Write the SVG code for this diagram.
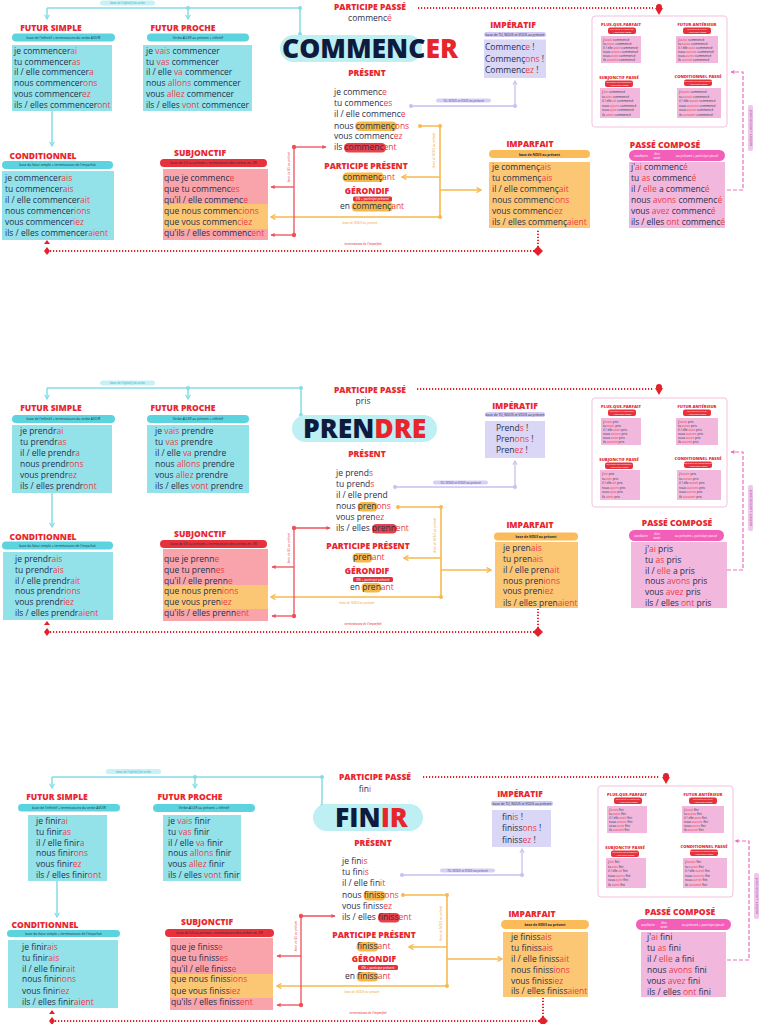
<svg xmlns="http://www.w3.org/2000/svg" width="768" height="1024" viewBox="0 0 768 1024">
<style>
text{font-family:"Open Sans","Liberation Sans",sans-serif}
.tt{font-weight:800;font-size:8.5px;fill:#e8262f;text-anchor:middle}
.l{font-size:8.5px;fill:#27304d}
.e{fill:#ea3e48}
.p{font-size:3.3px;text-anchor:middle;fill:#1d2a40}
.pi{font-size:3.1px;text-anchor:middle;font-style:italic}
.pw{font-size:2.4px;text-anchor:middle;fill:#fff}
.pw3{font-size:3.2px;text-anchor:middle;fill:#fff}
.ct{font-weight:800;font-size:4.2px;fill:#e8262f;text-anchor:middle}
.cl{font-size:3.2px;fill:#27304d}
.big{font-weight:800;font-size:26.5px;fill:#0f1b3d}
.cy{fill:#93e2ea}.cyp{fill:#5cd4df}.bg{fill:#bdeff3}
.pk{fill:#f8a4aa}.or{fill:#fcc775}.orp{fill:#fbbb58}
.lv{fill:#dad6f5}.lvp{fill:#cfc9f3}
.pc{fill:#f2b7dc}.hp{fill:#f35fb8}.rp{fill:#e8323b}
.ho{fill:#f7b84a}.hr{fill:#e7424b}
.c-cy{stroke:#85dde6;stroke-width:1.5;fill:none}
.c-or{stroke:#f8b94f;stroke-width:1.6;fill:none}
.c-rd{stroke:#ee5058;stroke-width:1.3;fill:none}
.c-lv{stroke:#c7c1ef;stroke-width:1.3;fill:none}
.c-pk{stroke:#ef6cc2;stroke-width:1.2;fill:none;stroke-dasharray:4 2}
.c-dot{stroke:#e3212b;stroke-width:2;fill:none;stroke-dasharray:1.2 1.8}
.dcy{fill:#85dde6}.dor{fill:#f8b94f}.drd{fill:#ee5058}.dlv{fill:#c7c1ef}.dk{fill:#e3212b}
.box{fill:#fff;stroke:#f5c1de;stroke-width:1}
</style>
<defs>
<marker id="ac" viewBox="0 0 10 10" refX="8" refY="5" markerWidth="4" markerHeight="4" orient="auto"><path d="M1,1 L8,5 L1,9" fill="none" stroke="#85dde6" stroke-width="2"/></marker>
<marker id="ao" viewBox="0 0 10 10" refX="8" refY="5" markerWidth="4" markerHeight="4" orient="auto"><path d="M1,1 L8,5 L1,9" fill="none" stroke="#f8b94f" stroke-width="2"/></marker>
<marker id="ar" viewBox="0 0 10 10" refX="8" refY="5" markerWidth="4" markerHeight="4" orient="auto"><path d="M1,1 L9,5 L1,9 Z" fill="#ee5058"/></marker>
<marker id="al" viewBox="0 0 10 10" refX="8" refY="5" markerWidth="4" markerHeight="4" orient="auto"><path d="M1,1 L8,5 L1,9" fill="none" stroke="#c7c1ef" stroke-width="2"/></marker>
<marker id="ap" viewBox="0 0 10 10" refX="8" refY="5" markerWidth="4" markerHeight="4" orient="auto"><path d="M1,1 L9,5 L1,9 Z" fill="#ef6cc2"/></marker>
</defs>
<rect width="768" height="1024" fill="#fff"/>

<!-- ================= SECTION 1 : COMMENCER ================= -->
<g id="s1-connectors">
<path class="c-cy" d="M47,8 H300 V34"/>
<path class="c-cy" d="M47,8 V19" marker-end="url(#ac)"/>
<path class="c-cy" d="M188,8 V19" marker-end="url(#ac)"/>
<circle class="dcy" cx="188" cy="8" r="2"/><circle class="dcy" cx="300" cy="8" r="2"/><circle class="dcy" cx="300" cy="34" r="2"/>
<rect x="100" y="0.5" width="55" height="5" rx="2.5" fill="#c9f1f5"/>
<text class="pi" x="127.5" y="4" fill="#3aaec0">base de l'infinitif du verbe</text>
<path class="c-cy" d="M52,111 V146" marker-end="url(#ac)"/>
<path class="c-dot" d="M418,8 H653"/>
<g class="dk"><circle cx="659" cy="7" r="3"/><path d="M655,8 L663,8 L659,15 Z"/></g>
<path class="c-dot" d="M47,251 H538 V229"/>
<path class="dk" d="M538,246 l5,5 l-5,5 l-5,-5z"/>
<path class="dk" d="M47,247 l3,4 l-3,4 l-3,-4z"/>
<path class="dk" d="M47,240 l3,4 h-6z"/>
<path class="c-lv" d="M411,106 H515 V81" marker-end="url(#al)"/>
<circle class="dlv" cx="411" cy="106" r="2"/><circle class="dlv" cx="515" cy="106" r="2"/>
<rect x="436" y="98.5" width="55" height="4" rx="2" fill="#d6d1f4"/>
<text class="pi" x="463.5" y="101.5" fill="#5a4fa0" font-style="normal">TU, NOUS et VOUS au présent</text>
<path class="c-or" d="M420,126 H440 V217"/>
<circle class="dor" cx="420" cy="126" r="2"/><circle class="dor" cx="440" cy="126" r="2"/><circle class="dor" cx="440" cy="217" r="2"/>
<path class="c-or" d="M440,177 H402" marker-end="url(#ao)"/>
<path class="c-or" d="M440,190 H481" marker-end="url(#ao)"/>
<path class="c-or" d="M440,217 H271" marker-end="url(#ao)"/>
<text class="pi" x="0" y="0" fill="#f0a030" font-style="normal" transform="translate(435,150) rotate(-90)">base de NOUS au présent</text>
<text class="pi" x="360" y="223.5" fill="#f0a030" font-style="normal">base de NOUS au présent</text>
<path class="c-rd" d="M294,147 H326" marker-end="url(#ar)"/>
<path class="c-rd" d="M294,147 V235"/>
<circle class="drd" cx="294" cy="147" r="2.2"/><circle class="drd" cx="294" cy="235" r="2.2"/>
<path class="c-rd" d="M294,187 H271" marker-end="url(#ar)"/>
<path class="c-rd" d="M294,235 H271" marker-end="url(#ar)"/>
<text class="pi" x="0" y="0" fill="#e8474f" font-style="normal" transform="translate(289.5,167) rotate(-90)">base de ILS au présent</text>
<text class="pi" x="363" y="245" fill="#e3212b" font-style="normal" font-size="3.6">terminaisons de l'imparfait</text>
<path class="c-pk" d="M727,190 H743 V72 H731" marker-end="url(#ap)"/>
<rect x="748" y="105" width="5" height="46" rx="2" fill="#ecc8ea"/>
<text class="pi" x="0" y="0" fill="#b04a9a" font-style="normal" font-size="2.6" transform="translate(751.6,128) rotate(-90)">auxiliaire + participe passé</text>
</g>

<g id="s1-verbe">
<rect class="bg" x="280" y="35" width="142" height="27" rx="13.5"/>
<text class="big" x="282" y="58">COMMENC<tspan fill="#e8252d">ER</tspan></text>
</g>
<g id="s1-participe-passe">
<text class="tt" x="370" y="10">PARTICIPE PASSÉ</text>
<text class="l" x="370" y="21" text-anchor="middle">commenc<tspan class="e">é</tspan></text>
</g>
<g id="s1-futur-simple">
<text class="tt" x="51" y="31">FUTUR SIMPLE</text>
<rect class="cyp" x="12" y="33.5" width="103" height="8" rx="4"/>
<text class="p" x="63.5" y="38.7">base de l'infinitif + terminaisons du verbe AVOIR</text>
<rect class="cy" x="12" y="45" width="100" height="66"/>
<text class="l" x="14" y="54">je commencer<tspan class="e">ai</tspan></text>
<text class="l" x="14" y="64.7">tu commencer<tspan class="e">as</tspan></text>
<text class="l" x="14" y="75.4">il / elle commencer<tspan class="e">a</tspan></text>
<text class="l" x="14" y="86.1">nous commencer<tspan class="e">ons</tspan></text>
<text class="l" x="14" y="96.8">vous commencer<tspan class="e">ez</tspan></text>
<text class="l" x="14" y="107.5">ils / elles commencer<tspan class="e">ont</tspan></text>
</g>
<g id="s1-futur-proche">
<text class="tt" x="183" y="31">FUTUR PROCHE</text>
<rect class="cyp" x="147" y="33.5" width="102" height="8" rx="4"/>
<text class="p" x="198" y="38.7">Verbe <tspan font-style="italic">ALLER</tspan> au présent + infinitif</text>
<rect class="cy" x="143" y="45" width="109" height="66"/>
<text class="l" x="146" y="54">je <tspan class="e">vais</tspan> commencer</text>
<text class="l" x="146" y="64.7">tu <tspan class="e">vas</tspan> commencer</text>
<text class="l" x="146" y="75.4">il / elle <tspan class="e">va</tspan> commencer</text>
<text class="l" x="146" y="86.1">nous <tspan class="e">allons</tspan> commencer</text>
<text class="l" x="146" y="96.8">vous <tspan class="e">allez</tspan> commencer</text>
<text class="l" x="146" y="107.5">ils / elles <tspan class="e">vont</tspan> commencer</text>
</g>
<g id="s1-conditionnel">
<text class="tt" x="43" y="159">CONDITIONNEL</text>
<rect class="cyp" x="2" y="161" width="111" height="8" rx="4"/>
<text class="p" x="57.5" y="166.2">base du futur simple + terminaisons de l'imparfait</text>
<rect class="cy" x="2" y="171" width="112" height="69"/>
<text class="l" x="5" y="180.5">je commencer<tspan class="e">ais</tspan></text>
<text class="l" x="5" y="191.5">tu commencer<tspan class="e">ais</tspan></text>
<text class="l" x="5" y="202.5">il / elle commencer<tspan class="e">ait</tspan></text>
<text class="l" x="5" y="213.5">nous commencer<tspan class="e">ions</tspan></text>
<text class="l" x="5" y="224.5">vous commencer<tspan class="e">iez</tspan></text>
<text class="l" x="5" y="235.5">ils / elles commencer<tspan class="e">aient</tspan></text>
</g>
<g id="s1-subjonctif">
<text class="tt" x="200" y="156">SUBJONCTIF</text>
<rect class="rp" x="160" y="159" width="107" height="8" rx="4"/>
<text class="p" x="213.5" y="164.2" fill="#3a0a10">base de ILS au présent + terminaisons des verbes en -ER</text>
<rect class="pk" x="163" y="169" width="105" height="35"/>
<rect class="or" x="163" y="204" width="105" height="25"/>
<rect class="pk" x="163" y="229" width="105" height="11"/>
<text class="l" x="164" y="180.5">que je commenc<tspan class="e">e</tspan></text>
<text class="l" x="164" y="191.5">que tu commenc<tspan class="e">es</tspan></text>
<text class="l" x="164" y="202.5">qu'il / elle commenc<tspan class="e">e</tspan></text>
<text class="l" x="164" y="213.5">que nous commen<tspan class="e">cions</tspan></text>
<text class="l" x="164" y="224.5">que vous commen<tspan class="e">ciez</tspan></text>
<text class="l" x="164" y="235.5">qu'ils / elles commenc<tspan class="e">ent</tspan></text>
</g>
<g id="s1-present">
<text class="tt" x="367" y="76">PRÉSENT</text>
<rect class="ho" x="355" y="121.5" width="42" height="9.5" rx="4.5"/>
<rect class="hr" x="344" y="143" width="42" height="9.5" rx="4.5"/>
<text class="l" x="334" y="95">je commenc<tspan class="e">e</tspan></text>
<text class="l" x="334" y="106">tu commenc<tspan class="e">es</tspan></text>
<text class="l" x="334" y="117">il / elle commenc<tspan class="e">e</tspan></text>
<text class="l" x="334" y="128.5">nous commenç<tspan class="e">ons</tspan></text>
<text class="l" x="334" y="139">vous commenc<tspan class="e">ez</tspan></text>
<text class="l" x="334" y="150">ils commenc<tspan class="e">ent</tspan></text>
</g>
<g id="s1-participe-present">
<text class="tt" x="366" y="169">PARTICIPE PRÉSENT</text>
<rect class="ho" x="342.5" y="172.5" width="41.5" height="9.5" rx="4.5"/>
<text class="l" x="343" y="179.5">commenç<tspan class="e">ant</tspan></text>
</g>
<g id="s1-gerondif">
<text class="tt" x="367" y="194">GÉRONDIF</text>
<rect class="rp" x="353" y="196.5" width="39" height="5" rx="1.5"/>
<text class="pw3" x="372.5" y="200">EN + participe présent</text>
<rect class="ho" x="351.5" y="202" width="41.5" height="9.5" rx="4.5"/>
<text class="l" x="340" y="209">en commenç<tspan class="e">ant</tspan></text>
</g>
<g id="s1-imperatif">
<text class="tt" x="513" y="28">IMPÉRATIF</text>
<rect class="lvp" x="484" y="32" width="62" height="5" rx="2.5"/>
<text class="p" x="515" y="35.5" font-size="2.7">base de TU, NOUS et VOUS au présent</text>
<rect class="lv" x="484" y="39.5" width="62" height="38.5"/>
<text class="l" x="485" y="50">Commenc<tspan class="e">e</tspan> !</text>
<text class="l" x="485" y="61.5">Commenç<tspan class="e">ons</tspan> !</text>
<text class="l" x="485" y="72.5">Commenc<tspan class="e">ez</tspan> !</text>
</g>
<g id="s1-imparfait">
<text class="tt" x="530" y="147">IMPARFAIT</text>
<rect class="orp" x="489" y="150" width="101" height="8" rx="4"/>
<text class="p" x="539.5" y="155.6" font-weight="700" font-size="4.2">base de <tspan font-style="italic">NOUS</tspan> au présent</text>
<rect class="or" x="489" y="162" width="101" height="66"/>
<text class="l" x="492" y="170">je commenç<tspan class="e">ais</tspan></text>
<text class="l" x="492" y="180.5">tu commenç<tspan class="e">ais</tspan></text>
<text class="l" x="492" y="191.5">il / elle commenç<tspan class="e">ait</tspan></text>
<text class="l" x="492" y="202.5">nous commenc<tspan class="e">ions</tspan></text>
<text class="l" x="492" y="213.5">vous commenc<tspan class="e">iez</tspan></text>
<text class="l" x="492" y="224.5">ils / elles commenç<tspan class="e">aient</tspan></text>
</g>
<g id="s1-passe-compose">
<text class="tt" x="665" y="148">PASSÉ COMPOSÉ</text>
<rect class="hp" x="629" y="150" width="96" height="11" rx="5.5"/>
<text class="pw3" x="641" y="156.5">auxiliaire</text>
<text class="pw3" x="657" y="154.5" font-style="italic">être</text>
<text class="pw3" x="657" y="158.5" font-style="italic">avoir</text>
<text class="pw3" x="697" y="156.5">au présent + participe passé</text>
<rect class="pc" x="629" y="162" width="96" height="66"/>
<text class="l" x="631" y="169.5">j'<tspan class="e">ai</tspan> commenc<tspan class="e">é</tspan></text>
<text class="l" x="631" y="180.5">tu <tspan class="e">as</tspan>  commenc<tspan class="e">é</tspan></text>
<text class="l" x="631" y="192">il / <tspan class="e">elle</tspan> a commenc<tspan class="e">é</tspan></text>
<text class="l" x="631" y="202.5">nous <tspan class="e">avons</tspan> commenc<tspan class="e">é</tspan></text>
<text class="l" x="631" y="213.5">vous <tspan class="e">avez</tspan> commenc<tspan class="e">é</tspan></text>
<text class="l" x="631" y="224.5" textLength="94">ils / elles <tspan class="e">ont</tspan> commenc<tspan class="e">é</tspan></text>
</g>
<g id="s1-temps-composes">
<rect class="box" x="592" y="16" width="135" height="111" rx="3"/>
<text class="ct" x="621" y="26">PLUS-QUE-PARFAIT</text>
<rect class="rp" x="608" y="27.5" width="28" height="6.5" rx="2"/>
<text class="pw" x="622" y="30.4">auxiliaire à l'imparfait</text><text class="pw" x="622" y="33.2">+ participe passé</text>
<rect class="pc" x="601" y="36" width="40" height="27"/>
<text class="cl" x="603" y="40.5">j'<tspan class="e">avais</tspan> commencé</text>
<text class="cl" x="603" y="44.5">tu <tspan class="e">avais</tspan> commencé</text>
<text class="cl" x="603" y="48.5">il / elle <tspan class="e">avait</tspan> commencé</text>
<text class="cl" x="603" y="52.5">nous <tspan class="e">avions</tspan> commencé</text>
<text class="cl" x="603" y="56.5">vous <tspan class="e">aviez</tspan> commencé</text>
<text class="cl" x="603" y="60.5">ils <tspan class="e">avaient</tspan> commencé</text>
<text class="ct" x="697" y="26">FUTUR ANTÉRIEUR</text>
<rect class="rp" x="683" y="27.5" width="28" height="6.5" rx="2"/>
<text class="pw" x="697" y="30.4">auxiliaire au futur</text><text class="pw" x="697" y="33.2">+ participe passé</text>
<rect class="pc" x="676" y="36" width="42" height="27"/>
<text class="cl" x="678" y="40.5">j'<tspan class="e">aurai</tspan> commencé</text>
<text class="cl" x="678" y="44.5">tu <tspan class="e">auras</tspan> commencé</text>
<text class="cl" x="678" y="48.5">il / elle <tspan class="e">aura</tspan> commencé</text>
<text class="cl" x="678" y="52.5">nous <tspan class="e">aurons</tspan> commencé</text>
<text class="cl" x="678" y="56.5">vous <tspan class="e">aurez</tspan> commencé</text>
<text class="cl" x="678" y="60.5">ils <tspan class="e">auront</tspan> commencé</text>
<text class="ct" x="619" y="79">SUBJONCTIF PASSÉ</text>
<rect class="rp" x="605" y="80.5" width="28" height="6.5" rx="2"/>
<text class="pw" x="619" y="83.4">auxiliaire au subjonctif</text><text class="pw" x="619" y="86.2">+ participe passé</text>
<rect class="pc" x="600" y="88" width="40" height="30"/>
<text class="cl" x="602" y="93">j'<tspan class="e">aie</tspan> commencé</text>
<text class="cl" x="602" y="97.5">tu <tspan class="e">aies</tspan> commencé</text>
<text class="cl" x="602" y="102">il / elle <tspan class="e">ait</tspan> commencé</text>
<text class="cl" x="602" y="106.5">nous <tspan class="e">ayons</tspan> commencé</text>
<text class="cl" x="602" y="111">vous <tspan class="e">ayez</tspan> commencé</text>
<text class="cl" x="602" y="115.5">ils <tspan class="e">aient</tspan> commencé</text>
<text class="ct" x="698" y="78">CONDITIONNEL PASSÉ</text>
<rect class="rp" x="684" y="79.5" width="28" height="6.5" rx="2"/>
<text class="pw" x="698" y="82.4">auxiliaire au conditionnel</text><text class="pw" x="698" y="85.2">+ participe passé</text>
<rect class="pc" x="677" y="88" width="44" height="30"/>
<text class="cl" x="679" y="93">j'<tspan class="e">aurais</tspan> commencé</text>
<text class="cl" x="679" y="97.5">tu <tspan class="e">aurais</tspan> commencé</text>
<text class="cl" x="679" y="102">il / elle <tspan class="e">aurait</tspan> commencé</text>
<text class="cl" x="679" y="106.5">nous <tspan class="e">aurions</tspan> commencé</text>
<text class="cl" x="679" y="111">vous <tspan class="e">auriez</tspan> commencé</text>
<text class="cl" x="679" y="115.5">ils <tspan class="e">auraient</tspan> commencé</text>
</g>

<!-- ================= SECTION 2 : PRENDRE ================= -->
<g id="s2-connectors">
<path class="c-cy" d="M47,388 H301 V415"/>
<path class="c-cy" d="M47,388 V399" marker-end="url(#ac)"/>
<path class="c-cy" d="M188,388 V399" marker-end="url(#ac)"/>
<circle class="dcy" cx="188" cy="388" r="2"/><circle class="dcy" cx="301" cy="388" r="2"/><circle class="dcy" cx="301" cy="415" r="2"/>
<rect x="100" y="380.5" width="55" height="5" rx="2.5" fill="#c9f1f5"/>
<text class="pi" x="127.5" y="384" fill="#3aaec0">base de l'infinitif du verbe</text>
<path class="c-cy" d="M52,493 V527" marker-end="url(#ac)"/>
<path class="c-dot" d="M417,389 H653"/>
<g class="dk"><circle cx="659" cy="387" r="3"/><path d="M655,388 L663,388 L659,395 Z"/></g>
<path class="c-dot" d="M47,632 H538 V609"/>
<path class="dk" d="M538,627 l5,5 l-5,5 l-5,-5z"/>
<path class="dk" d="M47,628 l3,4 l-3,4 l-3,-4z"/>
<path class="dk" d="M47,621 l3,4 h-6z"/>
<path class="c-lv" d="M395,487 H515 V461" marker-end="url(#al)"/>
<circle class="dlv" cx="395" cy="487" r="2"/><circle class="dlv" cx="515" cy="487" r="2"/>
<rect x="433" y="480.5" width="55" height="4" rx="2" fill="#d6d1f4"/>
<text class="pi" x="460.5" y="483.5" fill="#5a4fa0" font-style="normal">TU, NOUS et VOUS au présent</text>
<path class="c-or" d="M398,507 H441 V597"/>
<circle class="dor" cx="398" cy="507" r="2"/><circle class="dor" cx="441" cy="507" r="2"/><circle class="dor" cx="441" cy="597" r="2"/>
<path class="c-or" d="M441,558 H404" marker-end="url(#ao)"/>
<path class="c-or" d="M441,570 H491" marker-end="url(#ao)"/>
<path class="c-or" d="M441,597 H271" marker-end="url(#ao)"/>
<text class="pi" x="0" y="0" fill="#f0a030" font-style="normal" transform="translate(436,535) rotate(-90)">base de NOUS au présent</text>
<text class="pi" x="357" y="603.5" fill="#f0a030" font-style="normal">base de NOUS au présent</text>
<path class="c-rd" d="M294,528 H330" marker-end="url(#ar)"/>
<path class="c-rd" d="M294,528 V616"/>
<circle class="drd" cx="294" cy="528" r="2.2"/><circle class="drd" cx="294" cy="616" r="2.2"/>
<path class="c-rd" d="M294,567 H272" marker-end="url(#ar)"/>
<path class="c-rd" d="M294,616 H272" marker-end="url(#ar)"/>
<text class="pi" x="0" y="0" fill="#e8474f" font-style="normal" transform="translate(289.5,548) rotate(-90)">base de ILS au présent</text>
<text class="pi" x="363" y="625" fill="#e3212b" font-style="normal" font-size="3.6">terminaisons de l'imparfait</text>
<path class="c-pk" d="M727,570 H743 V452 H731" marker-end="url(#ap)"/>
<rect x="748" y="485" width="5" height="46" rx="2" fill="#ecc8ea"/>
<text class="pi" x="0" y="0" fill="#b04a9a" font-style="normal" font-size="2.6" transform="translate(751.6,508) rotate(-90)">auxiliaire + participe passé</text>
</g>

<g id="s2-verbe">
<rect class="bg" x="292" y="415" width="145" height="27" rx="13.5"/>
<text class="big" x="303" y="438">PREN<tspan fill="#e8252d">DRE</tspan></text>
</g>
<g id="s2-participe-passe">
<text class="tt" x="370" y="393">PARTICIPE PASSÉ</text>
<text class="l" x="363" y="403.5" text-anchor="middle">pris</text>
</g>
<g id="s2-futur-simple">
<text class="tt" x="51" y="411">FUTUR SIMPLE</text>
<rect class="cyp" x="12" y="415" width="103" height="8" rx="4"/>
<text class="p" x="63.5" y="420.2">base de l'infinitif + terminaisons du verbe AVOIR</text>
<rect class="cy" x="12" y="425" width="100" height="68"/>
<text class="l" x="20" y="434">je prendr<tspan class="e">ai</tspan></text>
<text class="l" x="20" y="445">tu prendr<tspan class="e">as</tspan></text>
<text class="l" x="20" y="456">il / elle prendr<tspan class="e">a</tspan></text>
<text class="l" x="20" y="467">nous prendr<tspan class="e">ons</tspan></text>
<text class="l" x="20" y="478">vous prendr<tspan class="e">ez</tspan></text>
<text class="l" x="20" y="489">ils / elles prendr<tspan class="e">ont</tspan></text>
</g>
<g id="s2-futur-proche">
<text class="tt" x="183" y="411">FUTUR PROCHE</text>
<rect class="cyp" x="147" y="415" width="102" height="8" rx="4"/>
<text class="p" x="198" y="420.2">Verbe <tspan font-style="italic">ALLER</tspan> au présent + infinitif</text>
<rect class="cy" x="147" y="425" width="102" height="68"/>
<text class="l" x="155" y="434">je <tspan class="e">vais</tspan> prendre</text>
<text class="l" x="155" y="445">tu <tspan class="e">vas</tspan> prendre</text>
<text class="l" x="155" y="456">il / elle <tspan class="e">va</tspan> prendre</text>
<text class="l" x="155" y="467">nous <tspan class="e">allons</tspan> prendre</text>
<text class="l" x="155" y="478">vous <tspan class="e">allez</tspan> prendre</text>
<text class="l" x="155" y="489">ils / elles <tspan class="e">vont</tspan> prendre</text>
</g>
<g id="s2-conditionnel">
<text class="tt" x="43" y="540">CONDITIONNEL</text>
<rect class="cyp" x="2" y="541.5" width="111" height="8" rx="4"/>
<text class="p" x="57.5" y="546.7">base du futur simple + terminaisons de l'imparfait</text>
<rect class="cy" x="3" y="552" width="110" height="68"/>
<text class="l" x="15" y="562">je prendr<tspan class="e">ais</tspan></text>
<text class="l" x="15" y="572.5">tu prendr<tspan class="e">ais</tspan></text>
<text class="l" x="15" y="583.5">il / elle prendr<tspan class="e">ait</tspan></text>
<text class="l" x="15" y="594">nous prendr<tspan class="e">ions</tspan></text>
<text class="l" x="15" y="605">vous prendr<tspan class="e">iez</tspan></text>
<text class="l" x="15" y="615.5">ils / elles prendr<tspan class="e">aient</tspan></text>
</g>
<g id="s2-subjonctif">
<text class="tt" x="200" y="537">SUBJONCTIF</text>
<rect class="rp" x="160" y="540" width="107" height="8" rx="4"/>
<text class="p" x="213.5" y="545.2" fill="#3a0a10">base de ILS au présent + terminaisons des verbes en -ER</text>
<rect class="pk" x="163" y="549" width="105" height="36"/>
<rect class="or" x="163" y="585" width="105" height="24"/>
<rect class="pk" x="163" y="609" width="105" height="12"/>
<text class="l" x="164" y="562">que je prenn<tspan class="e">e</tspan></text>
<text class="l" x="164" y="572.5">que tu prenn<tspan class="e">es</tspan></text>
<text class="l" x="164" y="583.5">qu'il / elle prenn<tspan class="e">e</tspan></text>
<text class="l" x="164" y="594">que nous pren<tspan class="e">ions</tspan></text>
<text class="l" x="164" y="605">que vous pren<tspan class="e">iez</tspan></text>
<text class="l" x="164" y="616">qu'ils / elles prenn<tspan class="e">ent</tspan></text>
</g>
<g id="s2-present">
<text class="tt" x="367" y="457">PRÉSENT</text>
<rect class="ho" x="357.5" y="502" width="20" height="9.5" rx="4.5"/>
<rect class="hr" x="372" y="524" width="25" height="9.5" rx="4.5"/>
<text class="l" x="336" y="476">je prend<tspan class="e">s</tspan></text>
<text class="l" x="336" y="487">tu prend<tspan class="e">s</tspan></text>
<text class="l" x="336" y="498">il / elle prend</text>
<text class="l" x="336" y="509">nous pren<tspan class="e">ons</tspan></text>
<text class="l" x="336" y="520">vous pren<tspan class="e">ez</tspan></text>
<text class="l" x="336" y="531">ils / elles prenn<tspan class="e">ent</tspan></text>
</g>
<g id="s2-participe-present">
<text class="tt" x="368" y="549">PARTICIPE PRÉSENT</text>
<rect class="ho" x="352.5" y="553" width="20" height="9.5" rx="4.5"/>
<text class="l" x="353" y="560">pren<tspan class="e">ant</tspan></text>
</g>
<g id="s2-gerondif">
<text class="tt" x="367" y="574">GÉRONDIF</text>
<rect class="rp" x="353" y="577" width="40" height="5" rx="1.5"/>
<text class="pw3" x="373" y="580.5">EN + participe présent</text>
<rect class="ho" x="361.5" y="583" width="20" height="9.5" rx="4.5"/>
<text class="l" x="350" y="590">en pren<tspan class="e">ant</tspan></text>
</g>
<g id="s2-imperatif">
<text class="tt" x="515" y="409">IMPÉRATIF</text>
<rect class="lvp" x="485" y="412" width="60" height="5" rx="2.5"/>
<text class="p" x="515" y="415.5" font-size="2.7">base de TU, NOUS et VOUS au présent</text>
<rect class="lv" x="485" y="421" width="60" height="37"/>
<text class="l" x="496" y="431">Prend<tspan class="e">s</tspan> !</text>
<text class="l" x="496" y="442">Pren<tspan class="e">ons</tspan> !</text>
<text class="l" x="496" y="453">Pren<tspan class="e">ez</tspan> !</text>
</g>
<g id="s2-imparfait">
<text class="tt" x="530" y="528">IMPARFAIT</text>
<rect class="orp" x="494" y="532.5" width="84" height="8" rx="4"/>
<text class="p" x="536" y="538" font-weight="700" font-size="4">base de <tspan font-style="italic">NOUS</tspan> au présent</text>
<rect class="or" x="495" y="542" width="83" height="66"/>
<text class="l" x="503" y="551">je pren<tspan class="e">ais</tspan></text>
<text class="l" x="503" y="562">tu pren<tspan class="e">ais</tspan></text>
<text class="l" x="503" y="572.5">il / elle pren<tspan class="e">ait</tspan></text>
<text class="l" x="503" y="583.5">nous pren<tspan class="e">ions</tspan></text>
<text class="l" x="503" y="594">vous pren<tspan class="e">iez</tspan></text>
<text class="l" x="503" y="605.5">ils / elles pren<tspan class="e">aient</tspan></text>
</g>
<g id="s2-passe-compose">
<text class="tt" x="677" y="526">PASSÉ COMPOSÉ</text>
<rect class="hp" x="629" y="530" width="95" height="11" rx="5.5"/>
<text class="pw3" x="641" y="536.5">auxiliaire</text>
<text class="pw3" x="657" y="534.5" font-style="italic">être</text>
<text class="pw3" x="657" y="538.5" font-style="italic">avoir</text>
<text class="pw3" x="696" y="536.5">au présent + participe passé</text>
<rect class="pc" x="631" y="542" width="96" height="66"/>
<text class="l" x="645" y="552">j'<tspan class="e">ai</tspan> pris</text>
<text class="l" x="645" y="562.5">tu <tspan class="e">as</tspan>  pris</text>
<text class="l" x="645" y="573.5">il / <tspan class="e">elle</tspan> a pris</text>
<text class="l" x="645" y="584">nous <tspan class="e">avons</tspan> pris</text>
<text class="l" x="645" y="595">vous <tspan class="e">avez</tspan> pris</text>
<text class="l" x="645" y="605.5">ils / elles <tspan class="e">ont</tspan> pris</text>
</g>
<g id="s2-temps-composes" transform="translate(0,382)">
<rect class="box" x="592" y="16" width="135" height="109" rx="3"/>
<text class="ct" x="621" y="26">PLUS-QUE-PARFAIT</text>
<rect class="rp" x="608" y="27.5" width="28" height="6.5" rx="2"/>
<text class="pw" x="622" y="30.4">auxiliaire à l'imparfait</text><text class="pw" x="622" y="33.2">+ participe passé</text>
<rect class="pc" x="601" y="36" width="40" height="27"/>
<text class="cl" x="603" y="40.5">j'<tspan class="e">avais</tspan> pris</text>
<text class="cl" x="603" y="44.5">tu <tspan class="e">avais</tspan> pris</text>
<text class="cl" x="603" y="48.5">il / elle <tspan class="e">avait</tspan> pris</text>
<text class="cl" x="603" y="52.5">nous <tspan class="e">avions</tspan> pris</text>
<text class="cl" x="603" y="56.5">vous <tspan class="e">aviez</tspan> pris</text>
<text class="cl" x="603" y="60.5">ils <tspan class="e">avaient</tspan> pris</text>
<text class="ct" x="697" y="26">FUTUR ANTÉRIEUR</text>
<rect class="rp" x="683" y="27.5" width="28" height="6.5" rx="2"/>
<text class="pw" x="697" y="30.4">auxiliaire au futur</text><text class="pw" x="697" y="33.2">+ participe passé</text>
<rect class="pc" x="676" y="36" width="42" height="27"/>
<text class="cl" x="678" y="40.5">j'<tspan class="e">aurai</tspan> pris</text>
<text class="cl" x="678" y="44.5">tu <tspan class="e">auras</tspan> pris</text>
<text class="cl" x="678" y="48.5">il / elle <tspan class="e">aura</tspan> pris</text>
<text class="cl" x="678" y="52.5">nous <tspan class="e">aurons</tspan> pris</text>
<text class="cl" x="678" y="56.5">vous <tspan class="e">aurez</tspan> pris</text>
<text class="cl" x="678" y="60.5">ils <tspan class="e">auront</tspan> pris</text>
<text class="ct" x="619" y="79">SUBJONCTIF PASSÉ</text>
<rect class="rp" x="605" y="80.5" width="28" height="6.5" rx="2"/>
<text class="pw" x="619" y="83.4">auxiliaire au subjonctif</text><text class="pw" x="619" y="86.2">+ participe passé</text>
<rect class="pc" x="600" y="88" width="40" height="30"/>
<text class="cl" x="602" y="93">j'<tspan class="e">aie</tspan> pris</text>
<text class="cl" x="602" y="97.5">tu <tspan class="e">aies</tspan> pris</text>
<text class="cl" x="602" y="102">il / elle <tspan class="e">ait</tspan> pris</text>
<text class="cl" x="602" y="106.5">nous <tspan class="e">ayons</tspan> pris</text>
<text class="cl" x="602" y="111">vous <tspan class="e">ayez</tspan> pris</text>
<text class="cl" x="602" y="115.5">ils <tspan class="e">aient</tspan> pris</text>
<text class="ct" x="698" y="78">CONDITIONNEL PASSÉ</text>
<rect class="rp" x="684" y="79.5" width="28" height="6.5" rx="2"/>
<text class="pw" x="698" y="82.4">auxiliaire au conditionnel</text><text class="pw" x="698" y="85.2">+ participe passé</text>
<rect class="pc" x="677" y="88" width="44" height="30"/>
<text class="cl" x="679" y="93">j'<tspan class="e">aurais</tspan> pris</text>
<text class="cl" x="679" y="97.5">tu <tspan class="e">aurais</tspan> pris</text>
<text class="cl" x="679" y="102">il / elle <tspan class="e">aurait</tspan> pris</text>
<text class="cl" x="679" y="106.5">nous <tspan class="e">aurions</tspan> pris</text>
<text class="cl" x="679" y="111">vous <tspan class="e">auriez</tspan> pris</text>
<text class="cl" x="679" y="115.5">ils <tspan class="e">auraient</tspan> pris</text>
</g>

<!-- ================= SECTION 3 : FINIR ================= -->
<g id="s3-connectors">
<path class="c-cy" d="M52,777 H322 V806"/>
<path class="c-cy" d="M52,777 V788" marker-end="url(#ac)"/>
<path class="c-cy" d="M195,777 V788" marker-end="url(#ac)"/>
<circle class="dcy" cx="195" cy="777" r="2"/><circle class="dcy" cx="322" cy="777" r="2"/><circle class="dcy" cx="322" cy="806" r="2"/>
<rect x="106" y="769" width="55" height="5" rx="2.5" fill="#c9f1f5"/>
<text class="pi" x="133.5" y="772.5" fill="#3aaec0">base de l'infinitif du verbe</text>
<path class="c-cy" d="M57,881 V917" marker-end="url(#ac)"/>
<path class="c-dot" d="M423,777 H660"/>
<g class="dk"><circle cx="666" cy="776" r="3"/><path d="M662,777 L670,777 L666,784 Z"/></g>
<path class="c-dot" d="M52,1021 H543 V998"/>
<path class="dk" d="M543,1016 l5,5 l-5,5 l-5,-5z"/>
<path class="dk" d="M52,1017 l3,4 l-3,4 l-3,-4z"/>
<path class="dk" d="M52,1010 l3,4 h-6z"/>
<path class="c-lv" d="M402,875 H522 V849" marker-end="url(#al)"/>
<circle class="dlv" cx="402" cy="875" r="2"/><circle class="dlv" cx="522" cy="875" r="2"/>
<rect x="440" y="868.5" width="55" height="4" rx="2" fill="#d6d1f4"/>
<text class="pi" x="467.5" y="871.5" fill="#5a4fa0" font-style="normal">TU, NOUS et VOUS au présent</text>
<path class="c-or" d="M403,895 H447 V986"/>
<circle class="dor" cx="403" cy="895" r="2"/><circle class="dor" cx="447" cy="895" r="2"/><circle class="dor" cx="447" cy="986" r="2"/>
<path class="c-or" d="M447,947 H409" marker-end="url(#ao)"/>
<path class="c-or" d="M447,959 H502" marker-end="url(#ao)"/>
<path class="c-or" d="M447,986 H277" marker-end="url(#ao)"/>
<text class="pi" x="0" y="0" fill="#f0a030" font-style="normal" transform="translate(442,923) rotate(-90)">base de NOUS au présent</text>
<text class="pi" x="362" y="992.5" fill="#f0a030" font-style="normal">base de NOUS au présent</text>
<path class="c-rd" d="M301,916 H335" marker-end="url(#ar)"/>
<path class="c-rd" d="M301,916 V1005"/>
<circle class="drd" cx="301" cy="916" r="2.2"/><circle class="drd" cx="301" cy="1005" r="2.2"/>
<path class="c-rd" d="M301,956 H277" marker-end="url(#ar)"/>
<path class="c-rd" d="M301,1005 H277" marker-end="url(#ar)"/>
<text class="pi" x="0" y="0" fill="#e8474f" font-style="normal" transform="translate(296.5,936) rotate(-90)">base de ILS au présent</text>
<text class="pi" x="368" y="1014" fill="#e3212b" font-style="normal" font-size="3.6">terminaisons de l'imparfait</text>
<path class="c-pk" d="M727,960 H749 V841 H735" marker-end="url(#ap)"/>
<rect x="754" y="873" width="5" height="46" rx="2" fill="#ecc8ea"/>
<text class="pi" x="0" y="0" fill="#b04a9a" font-style="normal" font-size="2.6" transform="translate(757.6,896) rotate(-90)">auxiliaire + participe passé</text>
</g>

<g id="s3-verbe">
<rect class="bg" x="313" y="804" width="110" height="27" rx="13.5"/>
<text class="big" x="335" y="827">FIN<tspan fill="#e8252d">IR</tspan></text>
</g>
<g id="s3-participe-passe">
<text class="tt" x="375" y="780">PARTICIPE PASSÉ</text>
<text class="l" x="365" y="791.5" text-anchor="middle">fin<tspan class="e">i</tspan></text>
</g>
<g id="s3-futur-simple">
<text class="tt" x="57" y="800">FUTUR SIMPLE</text>
<rect class="cyp" x="18" y="804" width="102" height="7.5" rx="3.75"/>
<text class="p" x="69" y="809">base de l'infinitif + terminaisons du verbe AVOIR</text>
<rect class="cy" x="28" y="815" width="79" height="66"/>
<text class="l" x="36" y="824">je finir<tspan class="e">ai</tspan></text>
<text class="l" x="36" y="834.5">tu finir<tspan class="e">as</tspan></text>
<text class="l" x="36" y="845.5">il / elle finir<tspan class="e">a</tspan></text>
<text class="l" x="36" y="856">nous finir<tspan class="e">ons</tspan></text>
<text class="l" x="36" y="867">vous finir<tspan class="e">ez</tspan></text>
<text class="l" x="36" y="878">ils / elles finir<tspan class="e">ont</tspan></text>
</g>
<g id="s3-futur-proche">
<text class="tt" x="190" y="800">FUTUR PROCHE</text>
<rect class="cyp" x="153" y="804" width="102" height="8" rx="4"/>
<text class="p" x="204" y="809.2">Verbe <tspan font-style="italic">ALLER</tspan> au présent + infinitif</text>
<rect class="cy" x="163" y="815" width="78" height="66"/>
<text class="l" x="168" y="824">je <tspan class="e">vais</tspan> finir</text>
<text class="l" x="168" y="834.5">tu <tspan class="e">vas</tspan> finir</text>
<text class="l" x="168" y="845.5">il / elle <tspan class="e">va</tspan> finir</text>
<text class="l" x="168" y="856">nous <tspan class="e">allons</tspan> finir</text>
<text class="l" x="168" y="867">vous <tspan class="e">allez</tspan> finir</text>
<text class="l" x="168" y="878">ils / elles <tspan class="e">vont</tspan> finir</text>
</g>
<g id="s3-conditionnel">
<text class="tt" x="45" y="928">CONDITIONNEL</text>
<rect class="cyp" x="7" y="930" width="113" height="7" rx="3.5"/>
<text class="p" x="63.5" y="934.7">base du futur simple + terminaisons de l'imparfait</text>
<rect class="cy" x="8" y="940" width="110" height="68"/>
<text class="l" x="22" y="950">je finir<tspan class="e">ais</tspan></text>
<text class="l" x="22" y="960.5">tu finir<tspan class="e">ais</tspan></text>
<text class="l" x="22" y="972">il / elle finir<tspan class="e">ait</tspan></text>
<text class="l" x="22" y="982">nous finir<tspan class="e">ions</tspan></text>
<text class="l" x="22" y="993.5">vous finir<tspan class="e">iez</tspan></text>
<text class="l" x="22" y="1005">ils / elles finir<tspan class="e">aient</tspan></text>
</g>
<g id="s3-subjonctif">
<text class="tt" x="207" y="925">SUBJONCTIF</text>
<rect class="rp" x="165" y="929" width="109" height="8" rx="4"/>
<text class="p" x="219.5" y="934.2" fill="#3a0a10">base de ILS au présent + terminaisons des verbes en -ER</text>
<rect class="pk" x="170" y="938" width="103" height="36"/>
<rect class="or" x="170" y="974" width="103" height="24"/>
<rect class="pk" x="170" y="998" width="103" height="12"/>
<text class="l" x="171" y="950">que je finiss<tspan class="e">e</tspan></text>
<text class="l" x="171" y="960.5">que tu finiss<tspan class="e">es</tspan></text>
<text class="l" x="171" y="972">qu'il / elle finiss<tspan class="e">e</tspan></text>
<text class="l" x="171" y="982">que nous finiss<tspan class="e">ions</tspan></text>
<text class="l" x="171" y="993.5">que vous finiss<tspan class="e">iez</tspan></text>
<text class="l" x="171" y="1005">qu'ils / elles finiss<tspan class="e">ent</tspan></text>
</g>
<g id="s3-present">
<text class="tt" x="373" y="846">PRÉSENT</text>
<rect class="ho" x="363.5" y="891" width="22" height="9.5" rx="4.5"/>
<rect class="hr" x="378" y="913" width="22" height="9.5" rx="4.5"/>
<text class="l" x="342" y="864">je fin<tspan class="e">is</tspan></text>
<text class="l" x="342" y="875">tu fin<tspan class="e">is</tspan></text>
<text class="l" x="342" y="886">il / elle fin<tspan class="e">it</tspan></text>
<text class="l" x="342" y="898">nous finiss<tspan class="e">ons</tspan></text>
<text class="l" x="342" y="909">vous finiss<tspan class="e">ez</tspan></text>
<text class="l" x="342" y="920">ils / elles finiss<tspan class="e">ent</tspan></text>
</g>
<g id="s3-participe-present">
<text class="tt" x="374" y="938">PARTICIPE PRÉSENT</text>
<rect class="ho" x="356.5" y="942" width="22" height="9.5" rx="4.5"/>
<text class="l" x="357" y="949">finiss<tspan class="e">ant</tspan></text>
</g>
<g id="s3-gerondif">
<text class="tt" x="374" y="962">GÉRONDIF</text>
<rect class="rp" x="358" y="965" width="40" height="5" rx="1.5"/>
<text class="pw3" x="378" y="968.5">EN + participe présent</text>
<rect class="ho" x="356.5" y="972" width="22" height="9.5" rx="4.5"/>
<text class="l" x="345" y="979">en finiss<tspan class="e">ant</tspan></text>
</g>
<g id="s3-imperatif">
<text class="tt" x="520" y="797">IMPÉRATIF</text>
<rect class="lvp" x="491" y="801" width="62" height="5" rx="2.5"/>
<text class="p" x="522" y="804.5" font-size="2.7">base de TU, NOUS et VOUS au présent</text>
<rect class="lv" x="492" y="810" width="59" height="37"/>
<text class="l" x="502" y="820">fin<tspan class="e">is</tspan> !</text>
<text class="l" x="502" y="831">finiss<tspan class="e">ons</tspan> !</text>
<text class="l" x="502" y="843">finiss<tspan class="e">ez</tspan> !</text>
</g>
<g id="s3-imparfait">
<text class="tt" x="532" y="917">IMPARFAIT</text>
<rect class="orp" x="501" y="920" width="88" height="9" rx="4.5"/>
<text class="p" x="545" y="926" font-weight="700" font-size="4">base de <tspan font-style="italic">NOUS</tspan> au présent</text>
<rect class="or" x="503" y="932" width="85" height="65"/>
<text class="l" x="511" y="940">je finiss<tspan class="e">ais</tspan></text>
<text class="l" x="511" y="951">tu finiss<tspan class="e">ais</tspan></text>
<text class="l" x="511" y="961.5">il / elle finiss<tspan class="e">ait</tspan></text>
<text class="l" x="511" y="973">nous finiss<tspan class="e">ions</tspan></text>
<text class="l" x="511" y="983.5">vous finiss<tspan class="e">iez</tspan></text>
<text class="l" x="511" y="994">ils / elles finiss<tspan class="e">aient</tspan></text>
</g>
<g id="s3-passe-compose">
<text class="tt" x="680" y="915">PASSÉ COMPOSÉ</text>
<rect class="hp" x="636" y="919" width="95" height="11" rx="5.5"/>
<text class="pw3" x="648" y="925.5">auxiliaire</text>
<text class="pw3" x="664" y="923.5" font-style="italic">être</text>
<text class="pw3" x="664" y="927.5" font-style="italic">avoir</text>
<text class="pw3" x="703" y="925.5">au présent + participe passé</text>
<rect class="pc" x="641" y="932" width="85" height="65"/>
<text class="l" x="647" y="940">j'<tspan class="e">ai</tspan> fini</text>
<text class="l" x="647" y="951">tu <tspan class="e">as</tspan>  fini</text>
<text class="l" x="647" y="962">il / <tspan class="e">elle</tspan> a fini</text>
<text class="l" x="647" y="973">nous <tspan class="e">avons</tspan> fini</text>
<text class="l" x="647" y="984">vous <tspan class="e">avez</tspan> fini</text>
<text class="l" x="647" y="994.5">ils / elles <tspan class="e">ont</tspan> fini</text>
</g>
<g id="s3-temps-composes" transform="translate(6,770)">
<rect class="box" x="592" y="16" width="135" height="111" rx="3"/>
<text class="ct" x="621" y="26">PLUS-QUE-PARFAIT</text>
<rect class="rp" x="608" y="27.5" width="28" height="6.5" rx="2"/>
<text class="pw" x="622" y="30.4">auxiliaire à l'imparfait</text><text class="pw" x="622" y="33.2">+ participe passé</text>
<rect class="pc" x="601" y="36" width="40" height="27"/>
<text class="cl" x="603" y="40.5">j'<tspan class="e">avais</tspan> fini</text>
<text class="cl" x="603" y="44.5">tu <tspan class="e">avais</tspan> fini</text>
<text class="cl" x="603" y="48.5">il / elle <tspan class="e">avait</tspan> fini</text>
<text class="cl" x="603" y="52.5">nous <tspan class="e">avions</tspan> fini</text>
<text class="cl" x="603" y="56.5">vous <tspan class="e">aviez</tspan> fini</text>
<text class="cl" x="603" y="60.5">ils <tspan class="e">avaient</tspan> fini</text>
<text class="ct" x="697" y="26">FUTUR ANTÉRIEUR</text>
<rect class="rp" x="683" y="27.5" width="28" height="6.5" rx="2"/>
<text class="pw" x="697" y="30.4">auxiliaire au futur</text><text class="pw" x="697" y="33.2">+ participe passé</text>
<rect class="pc" x="676" y="36" width="42" height="27"/>
<text class="cl" x="678" y="40.5">j'<tspan class="e">aurai</tspan> fini</text>
<text class="cl" x="678" y="44.5">tu <tspan class="e">auras</tspan> fini</text>
<text class="cl" x="678" y="48.5">il / elle <tspan class="e">aura</tspan> fini</text>
<text class="cl" x="678" y="52.5">nous <tspan class="e">aurons</tspan> fini</text>
<text class="cl" x="678" y="56.5">vous <tspan class="e">aurez</tspan> fini</text>
<text class="cl" x="678" y="60.5">ils <tspan class="e">auront</tspan> fini</text>
<text class="ct" x="619" y="79">SUBJONCTIF PASSÉ</text>
<rect class="rp" x="605" y="80.5" width="28" height="6.5" rx="2"/>
<text class="pw" x="619" y="83.4">auxiliaire au subjonctif</text><text class="pw" x="619" y="86.2">+ participe passé</text>
<rect class="pc" x="600" y="88" width="40" height="30"/>
<text class="cl" x="602" y="93">j'<tspan class="e">aie</tspan> fini</text>
<text class="cl" x="602" y="97.5">tu <tspan class="e">aies</tspan> fini</text>
<text class="cl" x="602" y="102">il / elle <tspan class="e">ait</tspan> fini</text>
<text class="cl" x="602" y="106.5">nous <tspan class="e">ayons</tspan> fini</text>
<text class="cl" x="602" y="111">vous <tspan class="e">ayez</tspan> fini</text>
<text class="cl" x="602" y="115.5">ils <tspan class="e">aient</tspan> fini</text>
<text class="ct" x="698" y="78">CONDITIONNEL PASSÉ</text>
<rect class="rp" x="684" y="79.5" width="28" height="6.5" rx="2"/>
<text class="pw" x="698" y="82.4">auxiliaire au conditionnel</text><text class="pw" x="698" y="85.2">+ participe passé</text>
<rect class="pc" x="677" y="88" width="44" height="30"/>
<text class="cl" x="679" y="93">j'<tspan class="e">aurais</tspan> fini</text>
<text class="cl" x="679" y="97.5">tu <tspan class="e">aurais</tspan> fini</text>
<text class="cl" x="679" y="102">il / elle <tspan class="e">aurait</tspan> fini</text>
<text class="cl" x="679" y="106.5">nous <tspan class="e">aurions</tspan> fini</text>
<text class="cl" x="679" y="111">vous <tspan class="e">auriez</tspan> fini</text>
<text class="cl" x="679" y="115.5">ils <tspan class="e">auraient</tspan> fini</text>
</g>
</svg>
